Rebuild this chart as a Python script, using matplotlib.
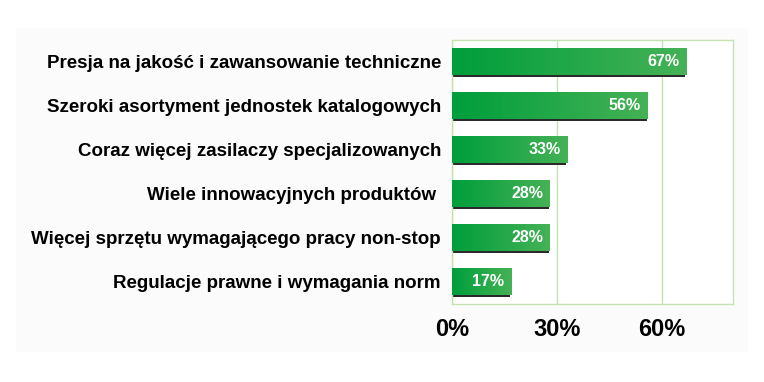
import matplotlib
matplotlib.use("Agg")
import matplotlib.pyplot as plt
import numpy as np
from matplotlib.colors import LinearSegmentedColormap

categories = [
    "Presja na jakość i zawansowanie techniczne",
    "Szeroki asortyment jednostek katalogowych",
    "Coraz więcej zasilaczy specjalizowanych",
    "Wiele innowacyjnych produktów ",
    "Więcej sprzętu wymagającego pracy non-stop",
    "Regulacje prawne i wymagania norm",
]
values = [67, 56, 33, 28, 28, 17]
tick_values = [0, 30, 60]
tick_labels = ["0%", "30%", "60%"]

plt.rcParams['font.family'] = ['Liberation Sans', 'DejaVu Sans']

fig = plt.figure(figsize=(7.64, 3.82), dpi=100)
fig.patch.set_facecolor('white')
# faint background band
fig.add_artist(plt.Rectangle((16/764, 1-352/382), (748-16)/764, (352-28)/382,
                             transform=fig.transFigure,
                             facecolor='#fbfbfb', edgecolor='none', zorder=-10))
ax = fig.add_axes([452/764, 1-304/382, (733-452)/764, (304-40)/382])
ax.set_facecolor('white')
ax.set_xlim(0, 80.3)
n = len(categories)
ax.set_ylim(n - 0.5, -0.5)

cmap = LinearSegmentedColormap.from_list('g', ['#009e3c', '#45b256'])
h = 0.6
grad = np.linspace(0, 1, 256).reshape(1, -1)
for i, v in enumerate(values):
    # shadow
    ax.barh(i + 0.05, v, height=h, left=-0.35, color='#2a2a2a', zorder=2)
    ax.imshow(grad, cmap=cmap, aspect='auto',
              extent=(0, v, i + h/2, i - h/2), zorder=3)
    ax.text(v - 2.0, i, f"{v}%", ha='right', va='center', color='white',
            fontsize=11.5, fontweight='bold', zorder=4)

ax.set_xticks(tick_values)
ax.set_xticklabels(tick_labels, fontsize=17, fontweight='bold')
ax.set_yticks(range(n))
ax.set_yticklabels(categories, fontsize=13.5, fontweight='bold')
ax.tick_params(axis='both', length=0)
ax.tick_params(axis='x', pad=10)
ax.tick_params(axis='y', pad=8)
ax.grid(axis='x', color='#c5e3b2', linewidth=1, zorder=0)
ax.set_axisbelow(True)
for s in ax.spines.values():
    s.set_color('#c5e3b2')
    s.set_linewidth(1)

fig.savefig('out.png', dpi=100)
